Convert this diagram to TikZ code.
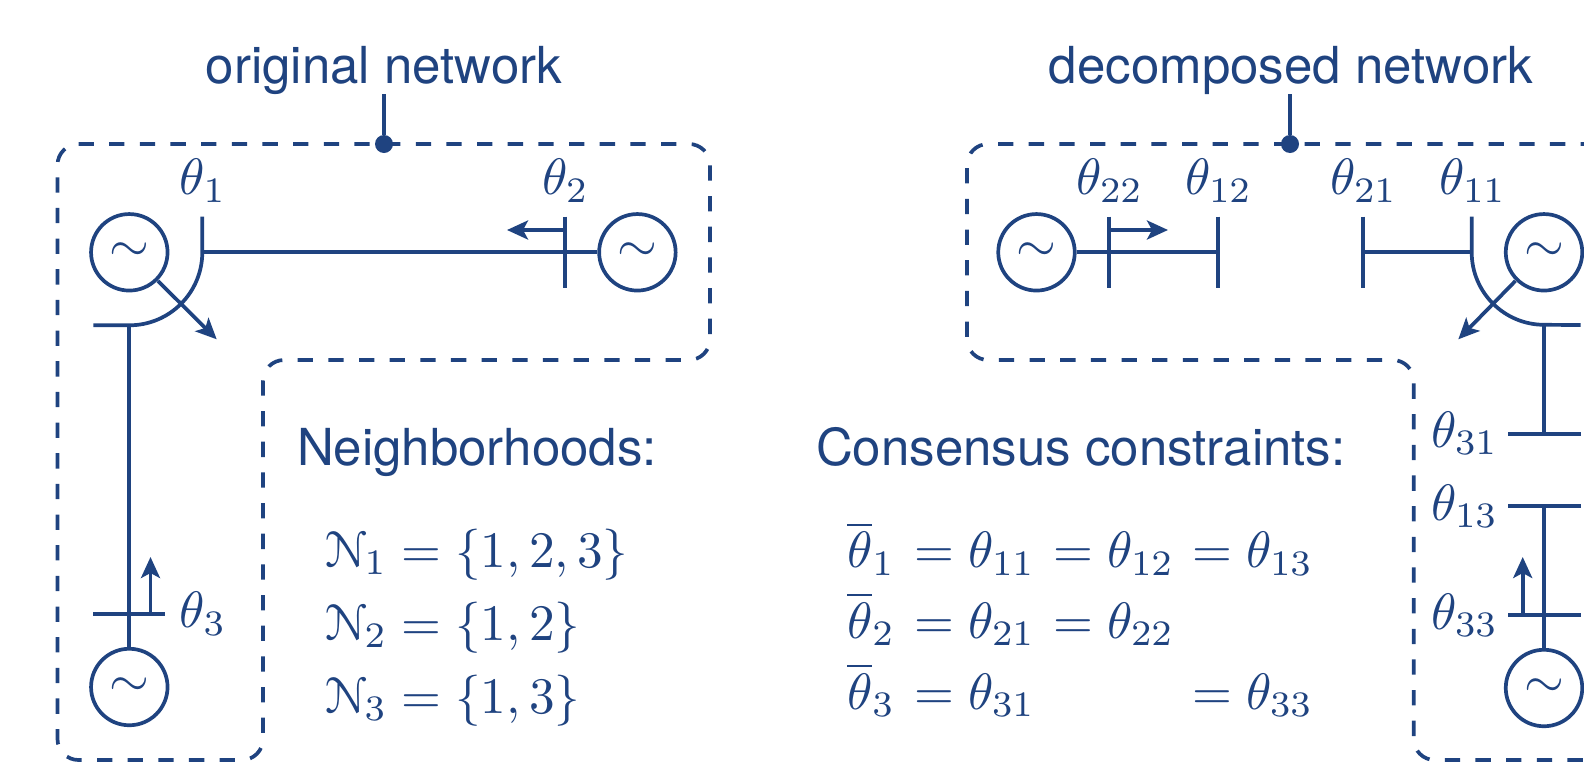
\documentclass[tikz,border=0pt]{standalone}
\usepackage[no-math]{fontspec}
\usepackage{graphicx}
\usepackage{eucal}
\usetikzlibrary{arrows.meta}
\newfontfamily\headfont{TeX Gyre Heros}
\definecolor{netblue}{HTML}{1F4380}
\newcommand{\mbig}[1]{\scalebox{5.12}{$#1$}}
\newcommand{\tbig}[1]{\scalebox{5.1}{\headfont #1}}
\tikzset{
  net/.style={line width=3.7pt,draw=netblue},
  gen/.style={circle,net,minimum size=76.5pt,inner sep=0pt,text=netblue},
  flow/.style={net,-{Stealth[length=21pt,width=19pt,inset=5pt]}},
  boxline/.style={net,dash pattern=on 15.3pt off 15.36pt,rounded corners=21pt},
  lab/.style={inner sep=0pt,outer sep=0pt,text=netblue,anchor=base west},
  labc/.style={inner sep=0pt,outer sep=0pt,text=netblue,anchor=base},
  tip/.style={circle,fill=netblue,inner sep=0pt,minimum size=18pt},
}
\begin{document}
\begin{tikzpicture}[x=1pt,y=-1pt]
\useasboundingbox (0,0) rectangle (1584,769);
\clip (0,0) rectangle (1584,769);
% ---------- original network
\draw[boxline] (57.5,144) -- (710,144) -- (710,360) -- (263,360) -- (263,760) -- (57.5,760) -- cycle;
\node[tip] (d1) at (384,144) {};
\coordinate (t1) at (384,94);
\draw[net] (t1) -- (d1);
\node[labc] (title1) at (384,83.5) {\tbig{original network}};
\node[gen] (g1) at (129.3,252.3) {\mbig{\sim}};
\node[gen] (g2) at (637.4,252.3) {\mbig{\sim}};
\node[gen] (g3) at (129.3,687) {\mbig{\sim}};
\coordinate (b1t) at (202.3,216.7);
\coordinate (b1m) at (202.3,252.3);
\coordinate (b1c) at (129.3,325.3);
\coordinate (b1s) at (93.3,325.3);
\draw[net] (b1t) -- (b1m) arc[start angle=0,end angle=90,radius=73] -- (b1s);
\coordinate (b2t) at (564.7,216.7);
\coordinate (b2b) at (564.7,288);
\coordinate (b2m) at (564.7,252.3);
\draw[net] (b2t) -- (b2b);
\draw[net] (b1m) -- (g2);
\coordinate (b3l) at (93.3,614);
\coordinate (b3r) at (165.3,614);
\draw[net] (b3l) -- (b3r);
\draw[net] (b1c) -- (g3);
\coordinate (a1) at (216.7,339.3);
\draw[flow] (g1) ++(28.6,28.6) -- (a1);
\coordinate (a2s) at (564.7,230);
\coordinate (a2e) at (507,230);
\draw[flow] (a2s) -- (a2e);
\coordinate (a3s) at (150.5,614);
\coordinate (a3e) at (150.5,557);
\draw[flow] (a3s) -- (a3e);
\node[lab] (l1) at (179.5,194.5) {\mbig{\theta_1}};
\node[lab] (l2) at (542,194.5) {\mbig{\theta_2}};
\node[lab] (l3) at (179.5,627.5) {\mbig{\theta_3}};
\node[lab] (h1) at (297,465) {\tbig{Neighborhoods:}};
\node[lab] (n1) at (325,567) {\mbig{\mathcal{N}_1}};
\node[lab] (n2) at (325,640) {\mbig{\mathcal{N}_2}};
\node[lab] (n3) at (325,713) {\mbig{\mathcal{N}_3}};
\node[lab] (n1e) at (401,567) {\mbig{=\{1,2,3\}}};
\node[lab] (n2e) at (401,640) {\mbig{=\{1,2\}}};
\node[lab] (n3e) at (401,713) {\mbig{=\{1,3\}}};
% ---------- decomposed network
\draw[boxline,dash phase=20.6pt] (967,144) -- (1620,144) -- (1620,760) -- (1413.7,760) -- (1413.7,360) -- (967,360) -- cycle;
\node[tip] (d2) at (1290,144) {};
\coordinate (t2) at (1290,94);
\draw[net] (t2) -- (d2);
\node[labc] (title2) at (1291,83.5) {\tbig{decomposed network}};
\node[gen] (g4) at (1036.5,252.3) {\mbig{\sim}};
\node[gen] (g5) at (1544,252.3) {\mbig{\sim}};
\node[gen] (g6) at (1544,688) {\mbig{\sim}};
\coordinate (c22t) at (1109,216.7);
\coordinate (c22b) at (1109,288);
\coordinate (c12t) at (1218,216.7);
\coordinate (c12b) at (1218,288);
\coordinate (c12m) at (1218,252.3);
\draw[net] (c22t) -- (c22b);
\draw[net] (c12t) -- (c12b);
\draw[net] (g4) -- (c12m);
\coordinate (c21t) at (1363,216.7);
\coordinate (c21b) at (1363,288);
\coordinate (c21m) at (1363,252.3);
\draw[net] (c21t) -- (c21b);
\coordinate (c11t) at (1471.7,216.7);
\coordinate (c11m) at (1471.7,252.3);
\coordinate (c11c) at (1544,325);
\coordinate (c11s) at (1580.7,325);
\draw[net] (c11t) -- (c11m) arc[start angle=180,end angle=90,radius=72.5] -- (c11s);
\draw[net] (c21m) -- (c11m);
\coordinate (c31l) at (1508.3,433.7);
\coordinate (c31r) at (1580.7,433.7);
\coordinate (c31m) at (1544,433.7);
\draw[net] (c31l) -- (c31r);
\draw[net] (c11c) -- (c31m);
\coordinate (c13l) at (1508.3,506.3);
\coordinate (c13r) at (1580.7,506.3);
\coordinate (c13m) at (1544,506.3);
\draw[net] (c13l) -- (c13r);
\draw[net] (c13m) -- (g6);
\coordinate (c33l) at (1508.3,615.3);
\coordinate (c33r) at (1580.7,615.3);
\draw[net] (c33l) -- (c33r);
\coordinate (a4e) at (1458.3,339.3);
\draw[flow] (g5) ++(-28.6,28.6) -- (a4e);
\coordinate (a5s) at (1109,230);
\coordinate (a5e) at (1168,230);
\draw[flow] (a5s) -- (a5e);
\coordinate (a6s) at (1522.7,615.3);
\coordinate (a6e) at (1522.7,557);
\draw[flow] (a6s) -- (a6e);
\node[lab] (l22) at (1076,194.5) {\mbig{\theta_{22}}};
\node[lab] (l12) at (1185,194.5) {\mbig{\theta_{12}}};
\node[lab] (l21) at (1330,194.5) {\mbig{\theta_{21}}};
\node[lab] (l11) at (1439,194.5) {\mbig{\theta_{11}}};
\node[lab] (l31) at (1431,447) {\mbig{\theta_{31}}};
\node[lab] (l13) at (1431,520) {\mbig{\theta_{13}}};
\node[lab] (l33) at (1431,629) {\mbig{\theta_{33}}};
\node[lab] (h2) at (816,465) {\tbig{Consensus constraints:}};
\node[lab] (e10) at (847,567.5) {\mbig{\overline{\theta}_1}};
\node[lab] (e11) at (914,567.5) {\mbig{=\theta_{11}}};
\node[lab] (e12) at (1053,567.5) {\mbig{=\theta_{12}}};
\node[lab] (e13) at (1192,567.5) {\mbig{=\theta_{13}}};
\node[lab] (e20) at (847,638) {\mbig{\overline{\theta}_2}};
\node[lab] (e21) at (914,638) {\mbig{=\theta_{21}}};
\node[lab] (e22) at (1053,638) {\mbig{=\theta_{22}}};
\node[lab] (e30) at (847,709) {\mbig{\overline{\theta}_3}};
\node[lab] (e31) at (914,709) {\mbig{=\theta_{31}}};
\node[lab] (e33) at (1192,709) {\mbig{=\theta_{33}}};
\end{tikzpicture}
\end{document}
